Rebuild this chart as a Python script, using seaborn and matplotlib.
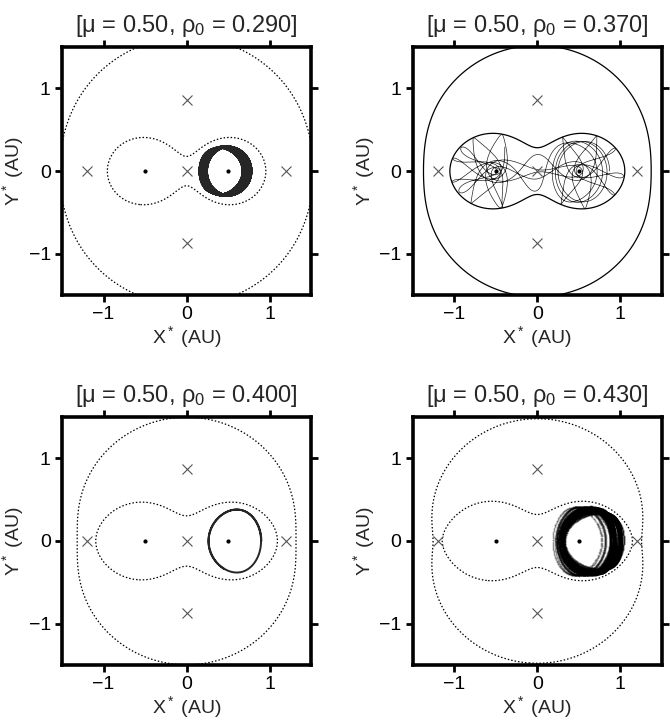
import math
import numpy as np
import pandas as pd
import matplotlib
matplotlib.use("Agg")
import matplotlib.pyplot as plt
import seaborn as sns

# binary mass ratio and starting distances (from the panel titles)
mu = 0.50
rho0 = [0.290, 0.370, 0.400, 0.430]
t_end = [120, 35, 4.5, 235]
zvc_style = [(0, (1.2, 1.6)), "-", (0, (1.2, 1.6)), (0, (1.2, 1.6))]
orbit_kind = ["band", "line", "thick", "dots"]

# Lagrange points and stars
lag_x = [0.0, 1.198, -1.198, 0.0, 0.0]
lag_y = [0.0, 0.0, 0.0, 0.866, -0.866]
star_x = [-0.5, 0.5]
star_y = [0.0, 0.0]
ticks = [-1, 0, 1]
tick_labels = ["\u22121", "0", "1"]


def accel(x, y, vx, vy):
    r1 = math.hypot(x + mu, y)
    r2 = math.hypot(x - 1 + mu, y)
    a = (1 - mu) / r1 ** 3
    b = mu / r2 ** 3
    return (2 * vy + x - a * (x + mu) - b * (x - 1 + mu),
            -2 * vx + y - a * y - b * y, min(r1, r2))


def integrate(rho, tmax):
    # start on the far side of the second star, prograde circular speed
    x, y = 1 - mu + rho, 0.0
    vx, vy = 0.0, math.sqrt(mu / rho) - rho
    t = 0.0
    xs, ys, ts = [x], [y], [t]
    while t < tmax:
        ax1, ay1, r = accel(x, y, vx, vy)
        h = min(0.004, 0.012 * r ** 1.5)
        vx2, vy2 = vx + 0.5*h*ax1, vy + 0.5*h*ay1
        ax2, ay2, _ = accel(x + 0.5*h*vx, y + 0.5*h*vy, vx2, vy2)
        vx3, vy3 = vx + 0.5*h*ax2, vy + 0.5*h*ay2
        ax3, ay3, _ = accel(x + 0.5*h*vx2, y + 0.5*h*vy2, vx3, vy3)
        vx4, vy4 = vx + h*ax3, vy + h*ay3
        ax4, ay4, _ = accel(x + h*vx3, y + h*vy3, vx4, vy4)
        x += h / 6 * (vx + 2*vx2 + 2*vx3 + vx4)
        y += h / 6 * (vy + 2*vy2 + 2*vy3 + vy4)
        vx += h / 6 * (ax1 + 2*ax2 + 2*ax3 + ax4)
        vy += h / 6 * (ay1 + 2*ay2 + 2*ay3 + ay4)
        t += h
        xs.append(x)
        ys.append(y)
        ts.append(t)
    return pd.DataFrame({"x": xs, "y": ys, "t": ts})


def omega2(x, y):
    r1 = np.hypot(x + mu, y)
    r2 = np.hypot(x - 1 + mu, y)
    return x ** 2 + y ** 2 + 2 * (1 - mu) / r1 + 2 * mu / r2


sns.set_theme(style="ticks")
plt.rcParams["font.family"] = ["Liberation Sans", "DejaVu Sans"]
plt.rcParams["mathtext.fontset"] = "custom"
plt.rcParams["mathtext.rm"] = "Liberation Sans"
plt.rcParams["mathtext.it"] = "Liberation Sans"

fig = plt.figure(figsize=(6.7, 7.25), dpi=100)
pos = [[0.0925, 0.593], [0.616, 0.593], [0.0925, 0.0828], [0.616, 0.0828]]

gx, gy = np.meshgrid(np.linspace(-1.6, 1.6, 700), np.linspace(-1.6, 1.6, 700))
field = omega2(gx, gy)

for i, rho in enumerate(rho0):
    ax = fig.add_axes([pos[i][0], pos[i][1], 0.372, 0.342])
    x0 = 1 - mu + rho
    v0 = math.sqrt(mu / rho) - rho
    cj = omega2(x0, 0.0) - v0 ** 2
    ax.contour(gx, gy, field, levels=[cj], colors="black",
               linestyles=[zvc_style[i]], linewidths=0.9)

    orb = integrate(rho, t_end[i])
    if orbit_kind[i] == "dots":
        # sample the trajectory at a fixed time cadence
        keep = np.diff(np.floor(orb["t"].to_numpy() / 0.012), prepend=-1) > 0
        sns.scatterplot(data=orb[keep], x="x", y="y", ax=ax, s=1.6, color="black",
                        alpha=0.3, edgecolor=None, linewidth=0, legend=False)
    else:
        lw = {"band": 0.35, "line": 0.5, "thick": 1.4}[orbit_kind[i]]
        sns.lineplot(data=orb, x="x", y="y", ax=ax, sort=False, estimator=None,
                     color="black", lw=lw, alpha=0.85)

    ax.plot(lag_x, lag_y, "x", color="#555555", ms=7.5, mew=0.8)
    ax.plot(star_x, star_y, "o", color="black", ms=2)

    ax.set_xlim(-1.5, 1.5)
    ax.set_ylim(-1.5, 1.5)
    ax.set_xticks(ticks)
    ax.set_yticks(ticks)
    ax.set_xticklabels(tick_labels)
    ax.set_yticklabels(tick_labels)
    ax.tick_params(direction="out", length=5, width=2, top=True, right=True,
                   labelsize=14, pad=3, color="black", labelcolor="black")
    for sp in ax.spines.values():
        sp.set_linewidth(2.6)
        sp.set_color("black")
    ax.set_xlabel("X$^*$ (AU)", fontsize=14, labelpad=1)
    ax.set_ylabel("Y$^*$ (AU)", fontsize=14, labelpad=2)
    ax.set_title("[\u03bc = 0.50, \u03c1$_0$ = %.3f]" % rho, fontsize=17, pad=11)

fig.savefig("out.png", dpi=100, facecolor="white")
